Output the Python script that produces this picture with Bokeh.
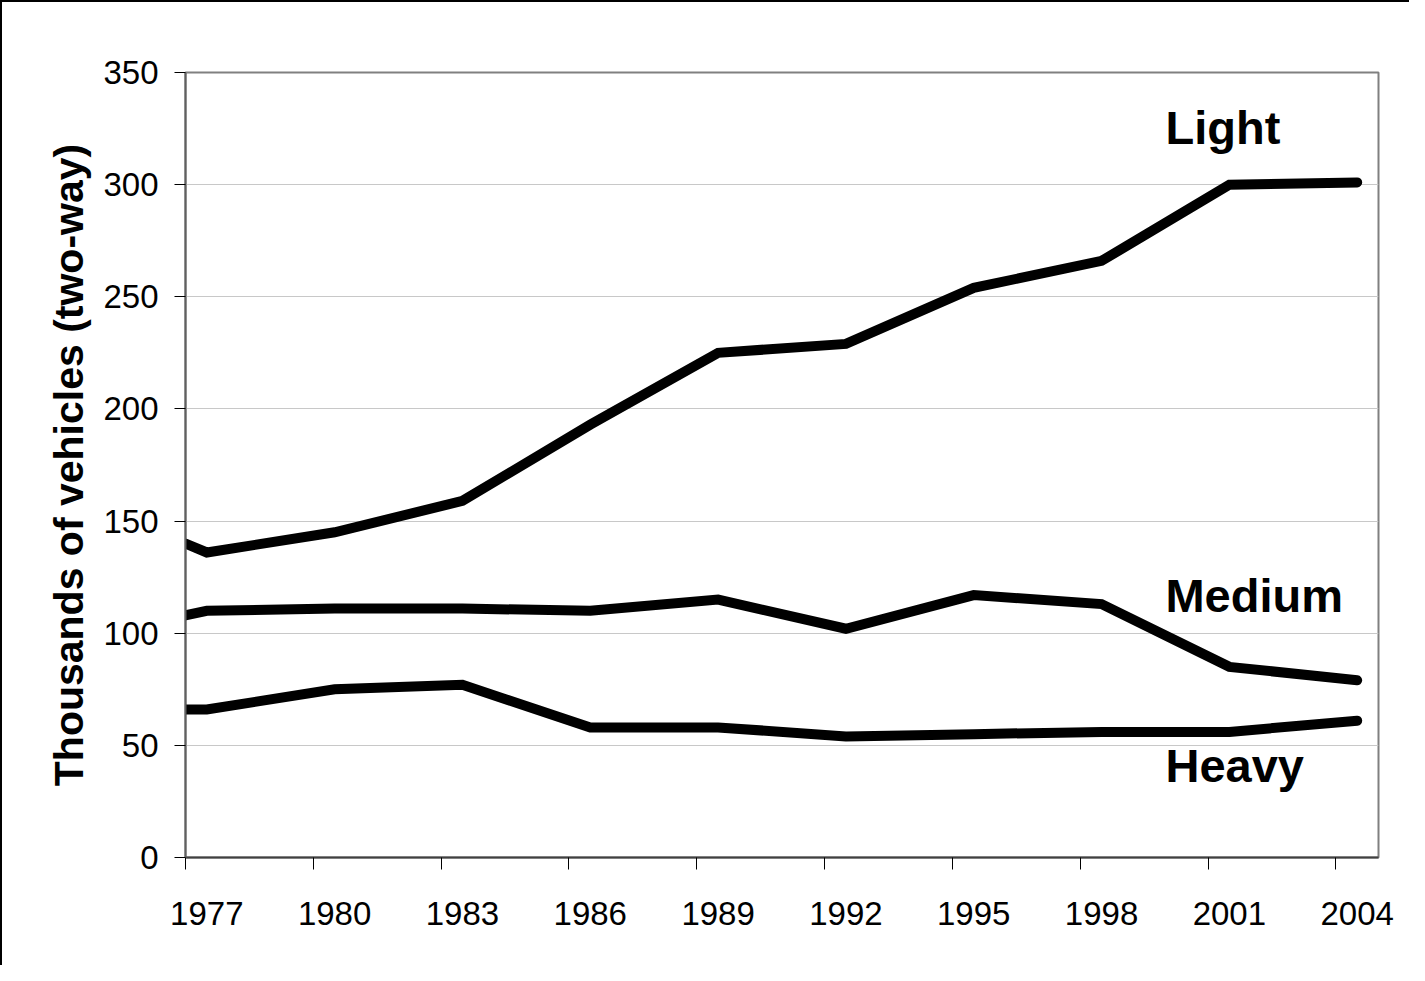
from bokeh.plotting import figure
from bokeh.models import FixedTicker, Range1d
from bokeh.core.properties import value
from bokeh.embed import file_html
from bokeh.resources import INLINE

# Data (thousands of vehicles, two-way)
years = [1977.0, 1977.5, 1980.5, 1983.5, 1986.5, 1989.5, 1992.5, 1995.5, 1998.5, 2001.5, 2004.5]
light = [140, 136, 145, 159, 193, 225, 229, 254, 266, 300, 301]
medium = [108, 110, 111, 111, 110, 115, 102, 117, 113, 85, 79]
heavy = [66, 66, 75, 77, 58, 58, 54, 55, 56, 56, 61]

tick_labels = ["1977", "1980", "1983", "1986", "1989", "1992", "1995", "1998", "2001", "2004"]
label_pos = [1977.5, 1980.5, 1983.5, 1986.5, 1989.5, 1992.5, 1995.5, 1998.5, 2001.5, 2004.5]
tick_pos = [1977, 1980, 1983, 1986, 1989, 1992, 1995, 1998, 2001, 2004]

series_names = ["Light", "Medium", "Heavy"]
series_label_x = [2000.0, 2000.0, 2000.0]
series_label_y = [325.7, 116.7, 41.2]

FONT = "Liberation Sans"

p = figure(width=1409, height=965, output_backend="svg", toolbar_location=None,
           x_range=Range1d(1977, 2005), y_range=Range1d(0, 350),
           min_border_left=183, min_border_right=33, min_border_top=70, min_border_bottom=110)

p.styles = {"border-top": "2px solid black", "border-left": "2px solid black", "box-sizing": "border-box"}

p.outline_line_color = "#808080"
p.outline_line_width = 2
p.background_fill_color = "white"
p.border_fill_color = "white"

for ys in (light, medium, heavy):
    p.line(years, ys, line_color="black", line_width=10, line_cap="round", line_join="miter")

p.text(series_label_x, series_label_y, text=series_names,
       text_font=value(FONT), text_font_style="bold", text_font_size="47px",
       text_color="black", text_baseline="alphabetic", text_align="left")

# x axis: labels at mid-year, tick marks at year boundaries
xa = p.xaxis[0]
xa.ticker = FixedTicker(ticks=label_pos, minor_ticks=tick_pos)
xa.major_label_overrides = {lp: t for lp, t in zip(label_pos, tick_labels)}
xa.major_tick_out = 0
xa.major_tick_in = 0
xa.minor_tick_out = 12
xa.minor_tick_in = 0
xa.minor_tick_line_color = "black"
xa.minor_tick_line_width = 1
xa.axis_line_color = "#404040"
xa.axis_line_width = 2
xa.major_label_standoff = 32
xa.major_label_text_font = FONT
xa.major_label_text_font_size = "33px"
xa.major_label_text_color = "black"

ya = p.yaxis[0]
ya.ticker = FixedTicker(ticks=[0, 50, 100, 150, 200, 250, 300, 350])
ya.major_tick_out = 11
ya.major_tick_in = 0
ya.minor_tick_out = 0
ya.minor_tick_in = 0
ya.major_tick_line_color = "black"
ya.axis_line_color = "#606060"
ya.axis_line_width = 2
ya.major_label_standoff = 16
ya.major_label_text_font = FONT
ya.major_label_text_font_size = "33px"
ya.major_label_text_color = "black"
ya.axis_label = "Thousands of vehicles (two-way)"
ya.axis_label_text_font = FONT
ya.axis_label_text_font_style = "bold"
ya.axis_label_text_font_size = "41px"
ya.axis_label_text_color = "black"
ya.axis_label_standoff = 8

p.xgrid.visible = False
p.ygrid.grid_line_color = "#c8c8c8"
p.ygrid.grid_line_width = 1

open("out.html", "w").write(file_html(p, INLINE))
